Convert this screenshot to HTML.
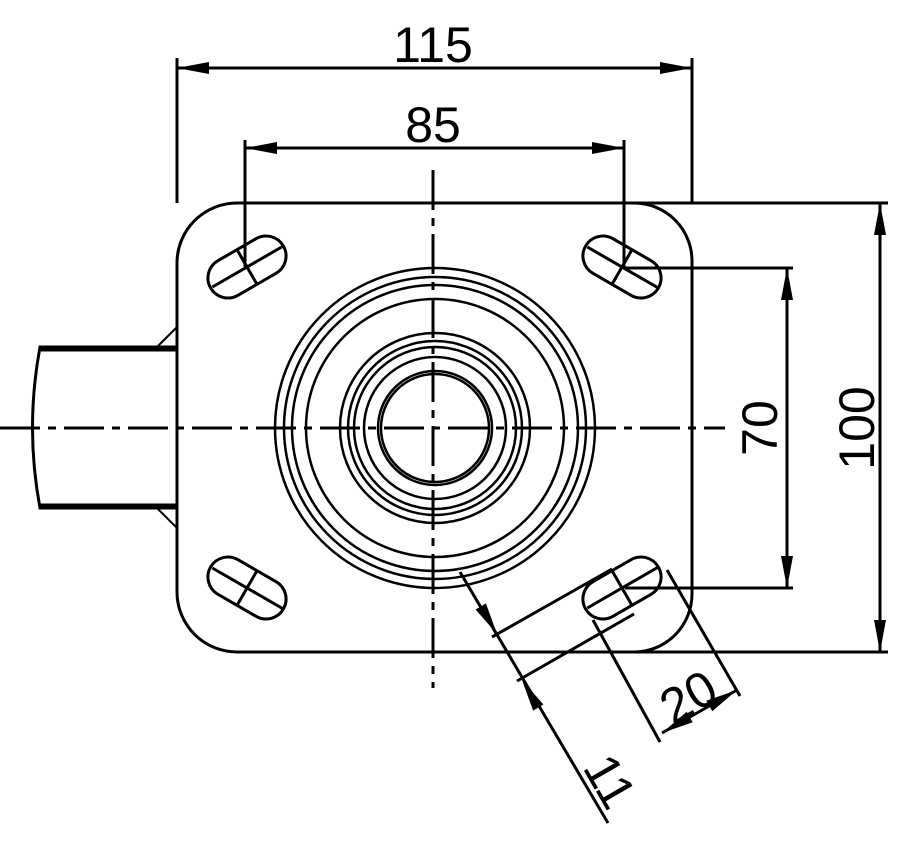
<!DOCTYPE html>
<html><head><meta charset="utf-8"><style>
html,body{margin:0;padding:0;background:#fff}
svg{display:block}
text{font-family:"Liberation Sans",sans-serif;font-size:50px;fill:#000;font-weight:normal}
</style></head><body>
<svg width="922" height="846" viewBox="0 0 922 846" xmlns="http://www.w3.org/2000/svg">
<defs>
<g id="slot" fill="none" stroke="#000" stroke-width="3">
<rect x="-42" y="-20" width="84" height="40" rx="20" ry="20"/>
<line x1="-40" y1="0" x2="42" y2="0"/>
<line x1="0" y1="-20" x2="0" y2="20"/>
</g>
<path id="arr" d="M0 0 L-32 -6 L-32 6 Z" fill="#000"/>
</defs>
<g fill="none" stroke="#000" stroke-width="3">
<path d="M237 203 H634 A58 58 0 0 1 692 261 V594 A58 58 0 0 1 634 652 H237 A60 60 0 0 1 177 592 V263 A60 60 0 0 1 237 203 Z"/>
<path d="M177 347 H40 Q25 428 40 508 H177"/>
<line x1="40" y1="350" x2="177" y2="350"/>
<line x1="40" y1="505" x2="177" y2="505"/>
<line x1="157" y1="347" x2="177" y2="327" stroke-width="2"/>
<line x1="157" y1="508" x2="177" y2="528" stroke-width="2"/>
<g stroke-width="2.5">
<circle cx="435" cy="428" r="160"/>
<circle cx="435" cy="428" r="151"/>
<circle cx="435" cy="428" r="143"/>
<circle cx="435" cy="428" r="129"/>
<circle cx="435" cy="428" r="95"/>
<circle cx="435" cy="428" r="87"/>
<circle cx="435" cy="428" r="81"/>
<circle cx="435" cy="428" r="71"/>
<circle cx="435" cy="428" r="57"/>
<circle cx="435" cy="428" r="54"/>
</g>
<line x1="0" y1="428" x2="725" y2="428" stroke-dasharray="40 8 8 8"/>
<line x1="433" y1="170" x2="433" y2="688" stroke-dasharray="40 8 8 8"/>
<line x1="177" y1="58" x2="177" y2="203"/>
<line x1="692" y1="58" x2="692" y2="203"/>
<line x1="177" y1="68" x2="692" y2="68"/>
<line x1="245" y1="140" x2="245" y2="267"/>
<line x1="624" y1="140" x2="624" y2="267"/>
<line x1="245" y1="148" x2="624" y2="148"/>
<line x1="634" y1="203" x2="888" y2="203"/>
<line x1="634" y1="652" x2="888" y2="652"/>
<line x1="880" y1="203" x2="880" y2="652"/>
<line x1="625" y1="268" x2="793" y2="268"/>
<line x1="625" y1="588" x2="793" y2="588"/>
<line x1="787" y1="268" x2="787" y2="588"/>
<line x1="492" y1="637" x2="612" y2="569"/>
<line x1="517" y1="681" x2="634" y2="614"/>
<line x1="460" y1="572" x2="608" y2="823"/>
<line x1="593" y1="620" x2="660" y2="742"/>
<line x1="667" y1="570" x2="740" y2="696"/>
<line x1="662" y1="733" x2="737" y2="690"/>
</g>
<use href="#slot" transform="translate(247,267) rotate(-30)"/>
<use href="#slot" transform="translate(622,267) rotate(30)"/>
<use href="#slot" transform="translate(247,588) rotate(30)"/>
<use href="#slot" transform="translate(622,588) rotate(-30)"/>
<use href="#arr" transform="translate(177,68) rotate(180)"/>
<use href="#arr" transform="translate(692,68)"/>
<use href="#arr" transform="translate(245,148) rotate(180)"/>
<use href="#arr" transform="translate(624,148)"/>
<use href="#arr" transform="translate(880,203) rotate(-90)"/>
<use href="#arr" transform="translate(880,652) rotate(90)"/>
<use href="#arr" transform="translate(787,268) rotate(-90)"/>
<use href="#arr" transform="translate(787,588) rotate(90)"/>
<use href="#arr" transform="translate(497,634) rotate(59.5)"/>
<use href="#arr" transform="translate(522,680) rotate(239.5)"/>
<use href="#arr" transform="translate(662,733) rotate(150)"/>
<use href="#arr" transform="translate(737,690) rotate(-30)"/>
<text x="433" y="62" text-anchor="middle">115</text>
<text x="433" y="142" text-anchor="middle">85</text>
<text transform="translate(777,428) rotate(-90)" text-anchor="middle">70</text>
<text transform="translate(874,428) rotate(-90)" text-anchor="middle">100</text>
<text transform="translate(697,712) rotate(-30)" text-anchor="middle">20</text>
<text transform="translate(595,790) rotate(60)" text-anchor="middle">11</text>
</svg>
</body></html>
